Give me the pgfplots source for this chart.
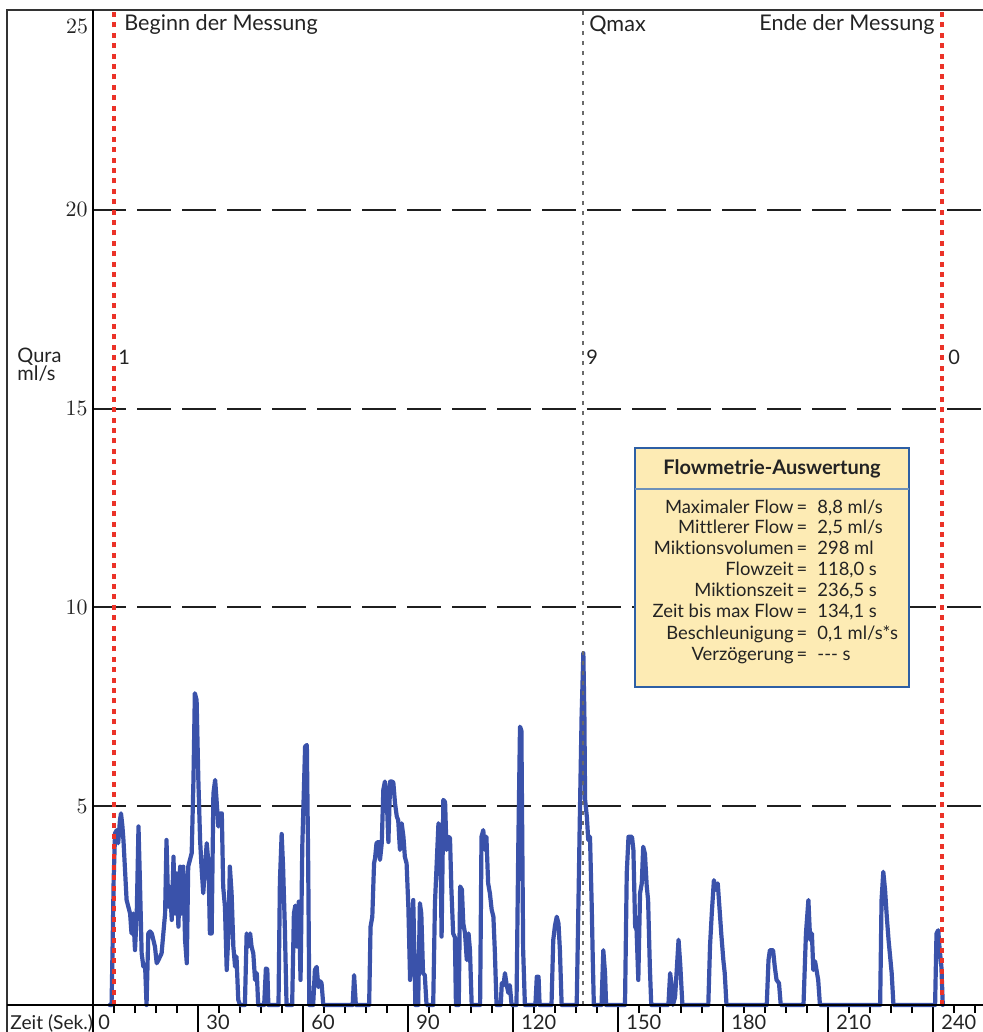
\documentclass[border=0pt]{standalone}
\usepackage{pgfplots}
\pgfplotsset{compat=1.18}
\usepackage{fontspec}
\setmainfont{Lato}[Ligatures=NoCommon]
\definecolor{flowblue}{RGB}{58,82,170}
\definecolor{mred}{RGB}{235,50,40}
\definecolor{qgray}{RGB}{105,105,105}
\definecolor{boxfill}{RGB}{253,235,180}
\definecolor{boxblue}{RGB}{45,95,165}
\definecolor{sepblue}{RGB}{110,145,185}
\definecolor{txt}{RGB}{35,35,35}
\begin{document}
\begin{tikzpicture}
\useasboundingbox (0,0) rectangle (491.5pt,516pt);
\begin{axis}[
  at={(46.5pt,13.5pt)}, anchor=south west,
  scale only axis, width=445pt, height=497pt,
  xmin=0, xmax=254.29, ymin=0, ymax=25,
  axis line style={draw=none},
  clip=false,
  xtick={0,30,...,240}, xticklabels={},
  minor xtick={6,12,...,252},
  xtick pos=left, ytick pos=left,
  tick align=outside,
  major tick length=13.5pt, minor tick length=4pt,
  xtick style={black, line width=0.9pt},
  minor tick style={black, line width=0.9pt},
  ytick={5,10,15,20},
  ytick style={draw=none},
  yticklabel style={inner sep=0pt, xshift=11pt, font=\fontsize{11}{13}\selectfont, text=txt},
  ymajorgrids,
  major grid style={line width=1pt, color=black!88, dash pattern=on 17pt off 5.5pt, dash phase=0.5pt},
]
\addplot[flowblue, line width=2.1pt, line join=round, line cap=round] coordinates {
(4.8,0)(5.3,0)(5.6,1.47)(5.9,3.14)(6.3,4.32)(6.8,4.4)(7.2,4.07)(7.7,4.65)(8.0,4.82)(8.4,4.5)(8.7,4.15)
(9.1,3.48)(9.6,2.64)(10.1,2.47)(10.6,2.3)(11.0,1.8)(11.5,2.3)(12.0,1.38)(12.5,2.3)(13.0,4.49)(13.4,3.14)
(13.9,1.3)(14.4,0.96)(14.9,0.96)(15.3,0)(15.8,1.8)(16.3,1.85)(16.8,1.8)(17.7,1.47)(18.2,1.05)(18.7,1.13)
(19.6,1.3)(20.6,2.3)(21.0,4.15)(21.5,2.47)(22.0,2.97)(22.5,2.14)(23.0,3.73)(23.4,2.3)(23.9,3.31)(24.4,1.97)
(24.9,3.48)(25.3,2.3)(25.8,3.48)(26.3,1.64)(26.8,1.05)(27.2,3.48)(27.7,3.65)(28.2,3.82)(28.7,5.66)(29.1,7.84)
(29.6,7.67)(30.1,5.66)(30.6,4.15)(31.0,3.48)(31.5,2.81)(32.0,3.48)(32.5,4.07)(33.0,3.56)(33.4,1.8)(33.9,1.8)
(34.4,5.32)(34.9,5.66)(35.3,5.16)(35.8,4.49)(36.3,4.82)(36.8,4.82)(37.2,2.97)(37.7,2.47)(38.2,0.88)(38.7,1.8)
(39.1,3.48)(39.6,2.81)(40.1,1.47)(40.6,0.96)(41.0,1.22)(41.5,0.13)(42.0,0)(43.4,0)(43.9,1.8)(44.4,1.47)
(44.9,1.8)(45.3,1.47)(45.8,1.3)(46.3,0.63)(46.8,0.8)(47.2,0)(48.9,0)(49.4,0.92)(49.8,0.9)(50.1,0)
(53.0,0)(53.4,3.1)(53.9,4.3)(54.3,3.5)(54.8,2.0)(55.3,0)(56.9,0)(57.4,2.3)(57.8,2.5)(58.3,1.47)
(58.8,2.6)(59.3,0.63)(59.8,4.0)(60.6,6.5)(61.1,6.54)(61.5,3.4)(61.8,0)(62.9,0)(63.4,0.88)(63.9,0.96)
(64.4,0.45)(64.9,0.6)(65.3,0.55)(65.8,0)(74.2,0)(74.6,0.75)(75.1,0)(78.9,0)(79.3,1.97)(79.8,2.22)
(80.3,3.56)(80.6,3.7)(81.0,4.07)(81.5,4.1)(82.0,3.65)(82.5,4.07)(82.95,5.41)(83.4,5.62)(83.9,5.25)(84.4,4.1)
(84.9,5.62)(85.4,5.62)(85.8,5.6)(86.3,5.07)(86.8,4.74)(87.2,4.65)(87.7,3.9)(88.2,4.57)(88.7,4.23)(89.1,3.73)
(89.6,3.56)(90.1,2.47)(90.6,0.63)(91.0,1.8)(91.5,2.64)(91.9,1.0)(92.1,0)(92.9,0)(93.4,2.56)(93.8,2.3)
(94.3,0.8)(94.8,0.75)(95.3,0)(97.2,0)(97.7,2.56)(98.2,3.56)(98.7,4.57)(99.2,4.4)(99.6,1.72)(100.1,5.16)
(100.6,5.1)(101.0,3.9)(101.5,4.23)(102.0,4.2)(102.4,2.9)(102.9,1.8)(103.4,1.7)(103.7,0)(104.5,0)(104.9,2.98)
(105.4,2.9)(105.8,2.05)(106.3,1.8)(106.8,1.13)(107.3,1.8)(107.7,1.38)(108.2,0)(110.6,0)(111.0,4.23)(111.5,4.4)
(112.0,3.9)(112.4,4.23)(112.9,3.06)(113.4,2.81)(113.9,2.4)(114.4,2.22)(114.8,1.38)(115.3,0)(116.5,0)(116.8,0.55)
(117.3,0.5)(117.7,0.8)(118.2,0.5)(118.7,0.3)(119.1,0.5)(119.6,0)(121.0,0)(121.5,3.9)(122.0,7.0)(122.4,6.9)
(122.9,1.38)(123.4,0)(126.4,0)(126.8,0.71)(127.3,0.71)(127.6,0)(131.0,0)(131.5,1.63)(132.0,2.0)(132.5,2.22)
(133.0,2.05)(133.4,1.38)(133.9,0)(138.2,0)(138.7,2.56)(139.1,4.74)(139.6,7.25)(140.1,8.85)(140.4,7.25)(140.6,5.16)
(141.1,4.74)(141.5,4.15)(142.0,4.23)(142.5,2.47)(142.8,1.13)(143.1,0)(145.3,0)(145.8,1.38)(146.3,0.8)(146.6,0)
(152.0,0)(152.5,3.31)(153.0,4.23)(153.5,4.23)(154.0,4.23)(154.4,3.9)(154.9,1.97)(155.3,1.9)(155.8,0.63)(156.3,2.81)
(156.8,3.06)(157.2,3.98)(157.7,3.8)(158.2,3.0)(158.6,2.64)(159.1,0.96)(159.5,0)(164.4,0)(164.9,0.8)(165.3,0.5)
(165.7,0)(166.3,0.2)(166.8,0.9)(167.3,1.64)(167.8,1.0)(168.4,0)(175.8,0)(176.3,1.5)(176.8,2.31)(177.4,3.14)
(177.9,2.9)(178.5,3.06)(179.1,2.31)(179.5,1.8)(180.1,1.13)(180.5,0.8)(181.0,0)(192.5,0)(193.0,1.13)(193.4,1.38)
(194.3,1.38)(194.8,0.96)(195.3,0.63)(196.0,0.55)(196.5,0)(203.0,0)(203.7,1.8)(204.4,2.64)(204.9,1.64)(205.4,1.8)
(205.8,0.88)(206.3,1.1)(207.2,0.63)(207.7,0)(224.9,0)(225.3,2.64)(225.8,3.35)(226.3,2.9)(226.8,2.22)(227.3,1.64)
(228.2,0.8)(228.7,0)(240.6,0)(241.0,1.8)(241.5,1.88)(241.9,1.4)(242.4,0.96)(242.8,0)
};
\draw[mred, line width=2pt, dash pattern=on 2.5pt off 2.7pt] (axis cs:6.0,0) -- (axis cs:6.0,25);
\draw[mred, line width=2pt, dash pattern=on 2.5pt off 2.7pt] (axis cs:242.7,0) -- (axis cs:242.7,25);
\draw[qgray, line width=1.4pt, dash pattern=on 2pt off 3pt] (axis cs:140.0,0) -- (axis cs:140.0,25);
\end{axis}
\begin{scope}[x=0.5pt,y=-0.5pt,shift={(0pt,516pt)}]
  % frame and axis lines
  \draw[black!80, line width=0.8pt] (7,1040) -- (7,10) -- (990,10);
  \draw[black, line width=1pt] (93,10) -- (93,1040);
  \draw[black, line width=1pt] (7,1005.5) -- (990,1005.5);
  % y labels
  \node[anchor=east, inner sep=0pt, text=txt, font=\fontsize{11}{13}\selectfont] at (88.5,26) {$25$};
  \node[anchor=west, inner sep=0pt, text=txt, font=\fontsize{10}{12}\selectfont] at (17,357) {Qura};
  \node[anchor=west, inner sep=0pt, text=txt, font=\fontsize{10}{12}\selectfont] at (17,374) {ml/s};
  % x labels
  \node[anchor=base west, inner sep=0pt, text=txt, font=\fontsize{9.6}{12}\selectfont] at (10,1029.5) {Zeit (Sek.)};
  \node[anchor=base west, inner sep=0pt, text=txt, font=\fontsize{10}{12}\selectfont] at (98,1029.5) {0};
  \foreach \t in {30,60,90,120,150,180,210,240}
    \node[anchor=base west, inner sep=0pt, text=txt, font=\fontsize{10}{12}\selectfont] at ({93+3.5*\t+8},1029.5) {\t};
  % annotations
  \node[anchor=west, inner sep=0pt, text=txt, font=\fontsize{10.8}{13}\selectfont] at (124,25) {Beginn der Messung};
  \node[anchor=west, inner sep=0pt, text=txt, font=\fontsize{10.8}{13}\selectfont] at (589,25) {Qmax};
  \node[anchor=east, inner sep=0pt, text=txt, font=\fontsize{10.8}{13}\selectfont] at (935,25) {Ende der Messung};
  \node[anchor=west, inner sep=0pt, text=txt, font=\fontsize{10}{12}\selectfont] at (118,357) {1};
  \node[anchor=west, inner sep=0pt, text=txt, font=\fontsize{10}{12}\selectfont] at (586,357) {9};
  \node[anchor=west, inner sep=0pt, text=txt, font=\fontsize{10}{12}\selectfont] at (948,357) {0};
  % box
  \draw[fill=boxfill, draw=boxblue, line width=0.8pt] (635,448) rectangle (909,687);
  \draw[sepblue, line width=0.8pt] (635,489) -- (909,489);
  \node[inner sep=0pt, text=txt, font=\bfseries\fontsize{10}{12}\selectfont] at (772,469) {Flowmetrie-Auswertung};
  \foreach \yy/\lab/\val in {508/Maximaler Flow/{8,8 ml/s}, 528/Mittlerer Flow/{2,5 ml/s}, 549/Miktionsvolumen/{298 ml}, 570/Flowzeit/{118,0 s}, 591/Miktionszeit/{236,5 s}, 612/Zeit bis max Flow/{134,1 s}, 634/Beschleunigung/{0,1 ml/s*s}, 655/Verzögerung/{-{}-{}- s}} {
    \node[anchor=mid east, inner sep=0pt, text=txt, font=\fontsize{9.2}{11}\selectfont] at (794,\yy) {\lab};
    \node[anchor=mid, inner sep=0pt, text=txt, font=\fontsize{9.2}{11}\selectfont] at (802,\yy) {=};
    \node[anchor=mid west, inner sep=0pt, text=txt, font=\fontsize{9.2}{11}\selectfont] at (817,\yy) {\val};
  }
\end{scope}
\end{tikzpicture}
\end{document}
